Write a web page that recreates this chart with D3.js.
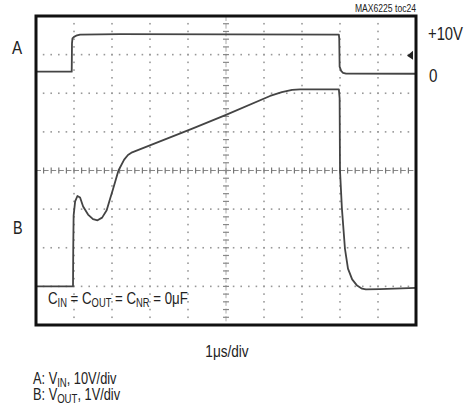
<!DOCTYPE html>
<html>
<head>
<meta charset="utf-8">
<script src="https://cdn.jsdelivr.net/npm/d3@7"></script>
<style>
  body { margin: 0; background: #fff; }
  svg { display: block; }
  text { font-family: "Liberation Sans Narrow", "Arial Narrow", "Liberation Sans", sans-serif; fill: #222; }
</style>
</head>
<body>
<svg id="chart" width="469" height="411"></svg>
<script>
// time in us (1us/div), 10 divisions
var xDivs = [0, 1, 2, 3, 4, 5, 6, 7, 8, 9, 10];
var yDivs = [-4, -3, -2, -1, 0, 1, 2, 3, 4];

// trace A: V_IN, 10V/div, zero at +2.56 div
var tA = [0, 0.94, 0.947, 0.96, 1.0, 1.08, 1.16, 2.21, 7.97, 7.98, 7.99, 8.03, 8.08, 8.16, 10];
var vA = [0, 0, 7.3, 8.6, 9.0, 9.4, 9.6, 9.7, 9.6, 8.6, 1.3, 0.2, -0.3, -0.5, -0.55];

// trace B: V_OUT, 1V/div, zero at -3 div
var tB = [0, 0.974, 0.98, 0.99, 1.03, 1.09, 1.16, 1.24, 1.37, 1.5, 1.62, 1.74, 1.86, 1.95, 2.03, 2.17, 2.32, 2.42, 2.53,
          4.13, 5.0, 6.16, 6.47, 6.74, 6.95, 7.97, 7.99, 8.0, 8.05, 8.13, 8.21, 8.32, 8.45, 8.58, 8.68, 9.05, 10];
var vB = [0, 0, 0.98, 1.83, 2.2, 2.34, 2.3, 2.07, 1.86, 1.74, 1.71, 1.78, 1.97, 2.27, 2.53, 3.0, 3.28, 3.4, 3.47,
          4.09, 4.44, 4.93, 5.03, 5.09, 5.1, 5.1, 4.87, 3.0, 2.02, 0.98, 0.46, 0.18, 0.02, -0.06, -0.08, -0.07, -0.04];

var chA = {offset: 2.56, perDiv: 10};
var chB = {offset: -3, perDiv: 1};

var svg = d3.select("#chart"),
    margin = {top: 16, right: 53, bottom: 86, left: 36},
    width = +svg.attr("width") - margin.left - margin.right,
    height = +svg.attr("height") - margin.top - margin.bottom,
    g = svg.append("g").attr("transform", "translate(" + margin.left + "," + margin.top + ")");

var x = d3.scaleLinear().domain([0, 10]).range([0, width]);
var y = d3.scaleLinear().domain([-4, 4]).range([height, 0]);

// dotted graticule, 5 dots per division
var minor = d3.range(1, 50).map(function(i) { return i / 5; });
var minorY = d3.range(-19, 20).map(function(i) { return i / 5; });

xDivs.slice(1, -1).forEach(function(d) {
  if (d === 5) return;
  g.selectAll(null).data(minorY)
    .enter().append("rect")
      .attr("x", x(d) - 0.8).attr("y", function(v) { return y(v) - 0.8; })
      .attr("width", 1.6).attr("height", 1.6).attr("fill", "#999");
});
yDivs.slice(1, -1).forEach(function(d) {
  if (d === 0) return;
  g.selectAll(null).data(minor)
    .enter().append("rect")
      .attr("x", function(v) { return x(v) - 0.8; }).attr("y", y(d) - 0.8)
      .attr("width", 1.6).attr("height", 1.6).attr("fill", "#999");
});

// center crosshair with tick marks
g.append("line").attr("x1", 0).attr("x2", width).attr("y1", y(0)).attr("y2", y(0))
  .attr("stroke", "#888").attr("stroke-width", 1).attr("stroke-dasharray", "5,2.6");
g.append("line").attr("x1", x(5)).attr("x2", x(5)).attr("y1", 0).attr("y2", height)
  .attr("stroke", "#aaa").attr("stroke-width", 1).attr("stroke-dasharray", "5,2.7");
g.selectAll(".tkx").data(minor)
  .enter().append("line")
    .attr("x1", function(v) { return x(v); }).attr("x2", function(v) { return x(v); })
    .attr("y1", y(0) - 3).attr("y2", y(0) + 3)
    .attr("stroke", "#777").attr("stroke-width", 1.2);
g.selectAll(".tky").data(minorY)
  .enter().append("line")
    .attr("x1", x(5) - 3).attr("x2", x(5) + 3)
    .attr("y1", function(v) { return y(v); }).attr("y2", function(v) { return y(v); })
    .attr("stroke", "#888").attr("stroke-width", 1.2);

// traces
var line = d3.line().curve(d3.curveLinear);

function tracePts(ts, vs, ch) {
  return ts.map(function(t, i) { return [x(t), y(vs[i] / ch.perDiv + ch.offset)]; });
}

g.append("path")
  .datum(tracePts(tA, vA, chA))
  .attr("fill", "none").attr("stroke", "#444").attr("stroke-width", 1.8)
  .attr("stroke-linejoin", "round")
  .attr("d", line);

g.append("path")
  .datum(tracePts(tB, vB, chB))
  .attr("fill", "none").attr("stroke", "#444").attr("stroke-width", 1.8)
  .attr("stroke-linejoin", "round")
  .attr("d", line);

// trigger marker on right edge
g.append("path")
  .attr("d", "M" + (width - 3) + "," + (y(3) - 4) + "L" + (width - 9) + "," + (y(3) + 1) + "L" + (width - 3) + "," + (y(3) + 5) + "Z")
  .attr("fill", "#222");

// frame
g.append("rect").attr("x", 0).attr("y", 0).attr("width", width).attr("height", height)
  .attr("fill", "none").attr("stroke", "#111").attr("stroke-width", 3);

// narrow-looking text: squeeze horizontally
function label(px, py, size, sx, anchor) {
  return svg.append("text")
    .attr("transform", "translate(" + px + "," + py + ") scale(" + sx + ",1)")
    .attr("text-anchor", anchor || "start")
    .attr("font-size", size);
}

label(margin.left + width, 12, 10, 0.86, "end").text("MAX6225 toc24");

label(12, margin.top + y(chA.offset + 0.45), 19, 0.8).text("A");
label(13, margin.top + y(-1.65), 18, 0.8).text("B");
label(428, margin.top + y(chA.offset + 10 / chA.perDiv) + 7, 19, 0.78).text("+10V");
label(429, margin.top + y(chA.offset) + 10, 19, 0.8).text("0");

var cap = label(margin.left + 12, margin.top + y(-3.45), 17, 0.78);
[["C", "IN"], [" = C", "OUT"], [" = C", "NR"], [" = 0\u03bcF", null]].forEach(function(p) {
  cap.append("tspan").attr("dy", p[0] === "C" ? 0 : -3).text(p[0]);
  if (p[1]) cap.append("tspan").attr("font-size", 12).attr("dy", 3).text(p[1]);
});

label(margin.left + x(5) + 1, 357, 17, 0.8, "middle").text("1\u03bcs/div");

var legend = [["A:  V", "IN", ", 10V/div"], ["B:  V", "OUT", ", 1V/div"]];
legend.forEach(function(l, i) {
  var t = label(33, 384 + i * 15.5, 16, 0.8);
  t.append("tspan").text(l[0]);
  t.append("tspan").attr("font-size", 12).attr("dy", 3).text(l[1]);
  t.append("tspan").attr("dy", -3).text(l[2]);
});
</script>
</body>
</html>
